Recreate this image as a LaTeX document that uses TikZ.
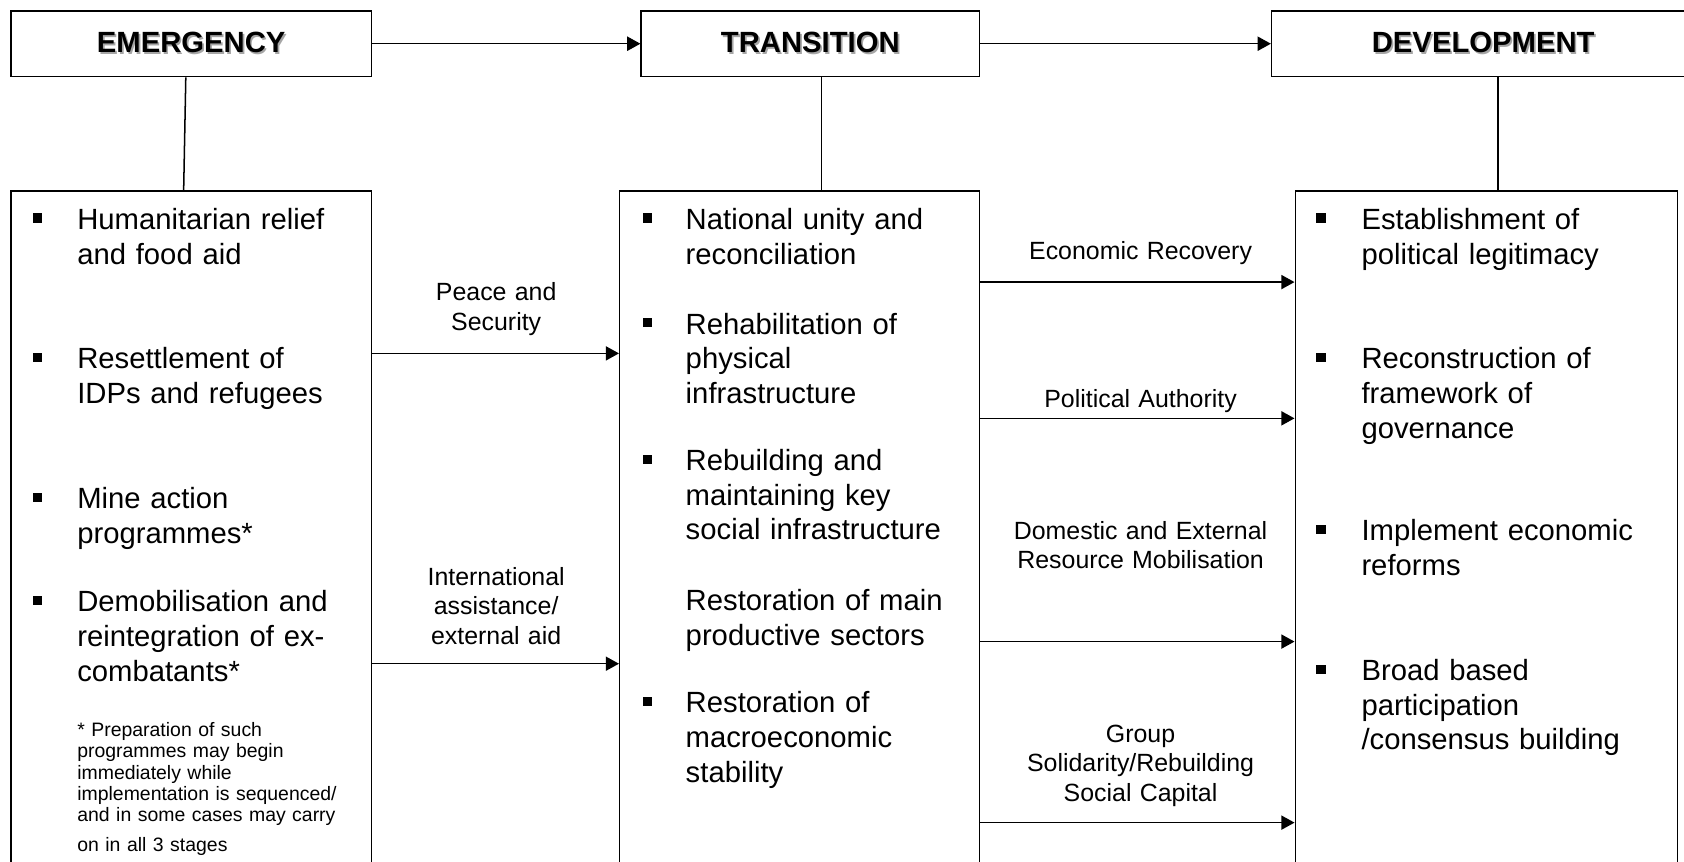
\documentclass[tikz,border=0pt]{standalone}
\usepackage{fontspec}
\setmainfont{Liberation Sans}
\usepackage{tikz}
\usetikzlibrary{arrows.meta}

\newcommand\bodyfont{\fontsize{15.5}{18.4}\selectfont}
\newcommand\labfont{\fontsize{13.2}{15.6}\selectfont}
\newcommand\notefont{\fontsize{10.3}{11.2}\selectfont}
\newcommand\headfont{\fontsize{15.5}{18}\selectfont\bfseries}
\newcommand\shadowed[1]{\rlap{\hspace{0.9pt}\raisebox{-0.9pt}{\color{black!35}#1}}#1}

\begin{document}
\begin{tikzpicture}[x=0.02cm, y=-0.02cm, line width=0.8pt,
	head/.style={draw, minimum height=1.228cm, inner sep=0pt, font=\headfont},
	box/.style={draw, minimum height=13.24cm, inner sep=0pt},
	item/.style={anchor=base west, align=left, text width=6cm, inner sep=0pt, font=\bodyfont},
	note/.style={anchor=base west, align=left, text width=6cm, inner sep=0pt, font=\notefont},
	lab/.style={anchor=base, align=center, text width=5cm, inner sep=0pt, font=\labfont},
	bul/.style={fill, inner sep=0pt, minimum size=0.17cm},
	arr/.style={-{Triangle[length=7pt,width=7.5pt]}}]

			\useasboundingbox (0,0) rectangle (1568,802.6);
			\clip (0,0) rectangle (1568,802.6);

			\node[head, minimum width=6.72cm] (emg) at (178,40.7) {\shadowed{EMERGENCY}};
			\node[head, minimum width=6.3cm] (tra) at (754.5,40.7) {\shadowed{TRANSITION}};
			\node[head, minimum width=7.88cm] (dev) at (1381,40.7) {\shadowed{DEVELOPMENT}};

			\node[box, minimum width=6.72cm] (emgbox) at (178,509) {};
			\node[box, minimum width=6.7cm] (trabox) at (744.5,509) {};
			\node[box, minimum width=7.12cm] (devbox) at (1384,509) {};

			\draw[arr] (emg) -- (tra);
			\draw[arr] (tra) -- (dev);

			\draw ([xshift=-0.1cm]emg.south) -- ([xshift=-0.14cm]emgbox.north);
			\draw ([xshift=0.21cm]tra.south) coordinate (tr) -- (tr |- trabox.north);
			\draw ([xshift=0.28cm]dev.south) coordinate (dv) -- (dv |- devbox.north);

			\draw[arr] ([yshift=3.6cm]emgbox.east) -- ([yshift=3.6cm]trabox.west);
			\draw[arr] ([yshift=-2.18cm]emgbox.east) -- ([yshift=-2.18cm]trabox.west);

			\draw[arr] ([yshift=4.928cm]trabox.east) -- ([yshift=4.928cm]devbox.west);
			\draw[arr] ([yshift=2.39cm]trabox.east) -- ([yshift=2.39cm]devbox.west);
			\draw[arr] ([yshift=-1.768cm]trabox.east) -- ([yshift=-1.768cm]devbox.west);
			\draw[arr] ([yshift=-5.14cm]trabox.east) -- ([yshift=-5.14cm]devbox.west);

			\node[lab] (ps) at (462,280) {Peace and\\Security};
			\node[lab] (ia) at (462,545) {International\\assistance/\\external aid};
			\node[lab] (er) at (1062,242) {Economic Recovery};
			\node[lab] (pa) at (1062,379.6) {Political Authority};
			\node[lab] (rm) at (1062,502) {Domestic and External\\Resource Mobilisation};
			\node[lab] (gs) at (1062,691) {Group\\Solidarity/Rebuilding\\Social Capital};

			\node[bul] (be1) at (35,203) {};
			\node[bul] (be2) at (35,333) {};
			\node[bul] (be3) at (35,463) {};
			\node[bul] (be4) at (35,559) {};
			\node[item] (e1) at (71.3,213.5) {Humanitarian relief\\and food aid};
			\node[item] (e2) at (71.3,343.5) {Resettlement of\\IDPs and refugees};
			\node[item] (e3) at (71.3,473.5) {Mine action\\programmes*};
			\node[item] (e4) at (71.3,569.5) {Demobilisation and\\reintegration of ex-\\combatants*};
			\node[note] (fn) at (71.3,686) {* Preparation of such\\programmes may begin\\immediately while\\implementation is sequenced/\\and in some cases may carry\\[4.7pt]on in all 3 stages};

			\node[bul] (bt1) at (602.6,203) {};
			\node[bul] (bt2) at (602.6,300.5) {};
			\node[bul] (bt3) at (602.6,427.5) {};
			\node[bul] (bt5) at (602.6,653) {};
			\node[item] (t1) at (637.8,213.5) {National unity and\\reconciliation};
			\node[item] (t2) at (637.8,311) {Rehabilitation of\\physical\\infrastructure};
			\node[item] (t3) at (637.8,438) {Rebuilding and\\maintaining key\\social infrastructure};
			\node[item] (t4) at (637.8,568.6) {Restoration of main\\productive sectors};
			\node[item] (t5) at (637.8,663.5) {Restoration of\\macroeconomic\\stability};

			\node[bul] (bd1) at (1230,203) {};
			\node[bul] (bd2) at (1230,333) {};
			\node[bul] (bd3) at (1230,493) {};
			\node[bul] (bd4) at (1230,623) {};
			\node[item] (d1) at (1267,213.5) {Establishment of\\political legitimacy};
			\node[item] (d2) at (1267,343.5) {Reconstruction of\\framework of\\governance};
			\node[item] (d3) at (1267,503.5) {Implement economic\\reforms};
			\node[item] (d4) at (1267,633.5) {Broad based\\participation\\/consensus building};

\end{tikzpicture}
\end{document}
